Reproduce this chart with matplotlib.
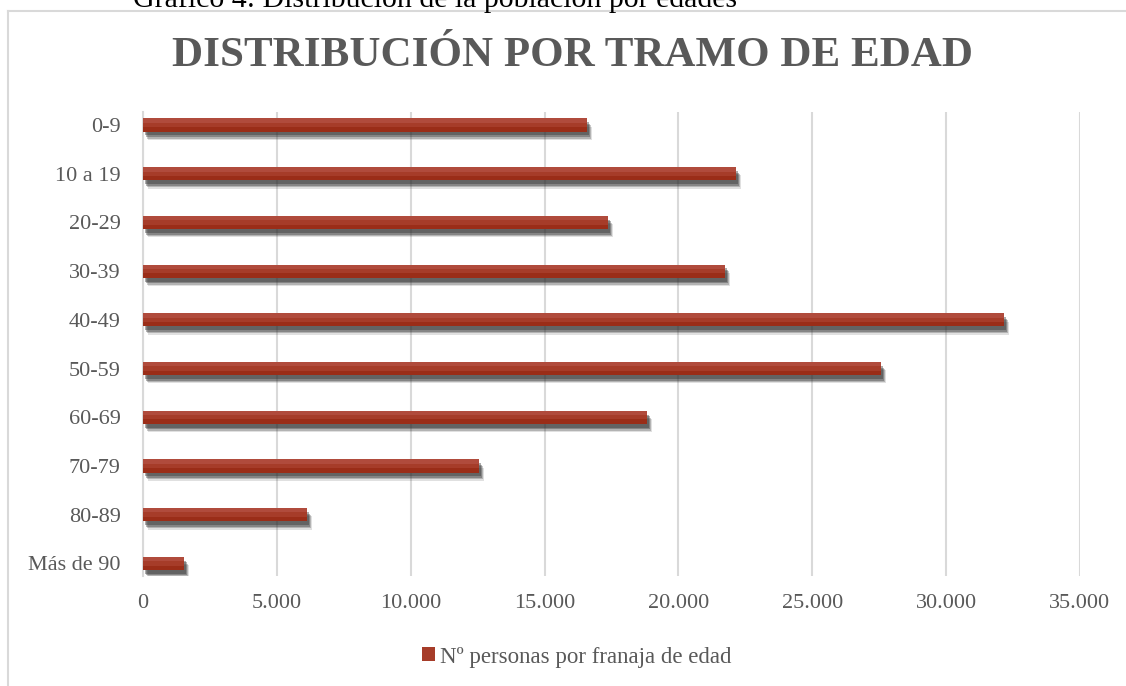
import matplotlib.pyplot as plt
import matplotlib.patheffects as pe
from matplotlib.patches import Patch

# datos
tramos = ['0-9', '10 a 19', '20-29', '30-39', '40-49', '50-59',
          '60-69', '70-79', '80-89', 'Más de 90']
personas = [16600, 22150, 17370, 21740, 32160, 27570, 18830, 12550, 6130, 1530]
ticks_x = [0, 5000, 10000, 15000, 20000, 25000, 30000, 35000]
etiquetas_x = ['0', '5.000', '10.000', '15.000', '20.000', '25.000', '30.000', '35.000']

plt.rcParams['font.family'] = ['Liberation Serif', 'DejaVu Serif']
gris = '#595959'
tonos = ['#b04b3c', '#a63c29', '#9a2d18']  # degradado de arriba abajo

fig = plt.figure(figsize=(11.26, 6.86), dpi=100)
W, H = 1126, 686

# texto del documento recortado arriba
fig.text(133 / W, 1 - 7 / H, 'Gráfico 4: Distribución de la población por edades',
         fontsize=21.5, color='black', va='baseline', ha='left')

# marco del gráfico (solo se ven arriba e izquierda)
fig.add_artist(plt.Line2D([8 / W, 1], [1 - 11 / H, 1 - 11 / H], color='#d9d9d9', lw=1.5))
fig.add_artist(plt.Line2D([8 / W, 8 / W], [0, 1 - 11 / H], color='#d9d9d9', lw=1.5))

ax = fig.add_axes([143 / W, 1 - 576 / H, (1080 - 143) / W, (576 - 112) / H])

# sombra difusa debajo de cada barra
sombra = [pe.SimplePatchShadow(offset=o, shadow_rgbFace='#303030', alpha=a)
          for o, a in [((3.4, -6.0), 0.15), ((2.8, -5.0), 0.25),
                       ((2.2, -4.0), 0.35), ((1.4, -2.8), 0.4)]]
sombra.append(pe.Normal())

posiciones = list(range(len(tramos)))
alto = 0.27
barras = ax.barh(posiciones, personas, height=alto, color=tonos[1], zorder=3)
for b in barras:
    b.set_path_effects(sombra)
# franjas para imitar el degradado
ax.barh([p - alto / 3 for p in posiciones], personas, height=alto / 3,
        color=tonos[0], zorder=4)
ax.barh([p + alto / 3 for p in posiciones], personas, height=alto / 3,
        color=tonos[2], zorder=4)

ax.set_ylim(9.26, -0.267)
ax.set_xlim(0, 35000)
ax.set_yticks(posiciones)
ax.set_yticklabels(tramos)
ax.set_xticks(ticks_x)
ax.set_xticklabels(etiquetas_x)
ax.tick_params(axis='both', length=0, colors=gris, labelsize=16)
ax.tick_params(axis='y', pad=16)
ax.tick_params(axis='x', pad=13)
ax.grid(axis='x', color='#d9d9d9', lw=1.5, zorder=0)
for s in ['top', 'right', 'bottom']:
    ax.spines[s].set_visible(False)
ax.spines['left'].set_color('#d9d9d9')
ax.spines['left'].set_linewidth(1.5)

fig.text(573 / W, 1 - 56 / H, 'DISTRIBUCIÓN POR TRAMO DE EDAD', fontsize=31,
         fontweight='bold', color=gris, ha='center', va='center')

marca = Patch(facecolor=tonos[1], label='Nº personas por franaja de edad')
fig.legend(handles=[marca], loc='center', bbox_to_anchor=(577 / W, 1 - 657 / H),
           frameon=False, fontsize=16.5, labelcolor=gris, handlelength=0.55,
           handleheight=0.55, handletextpad=0.25)

fig.savefig('out.png', dpi=100)
